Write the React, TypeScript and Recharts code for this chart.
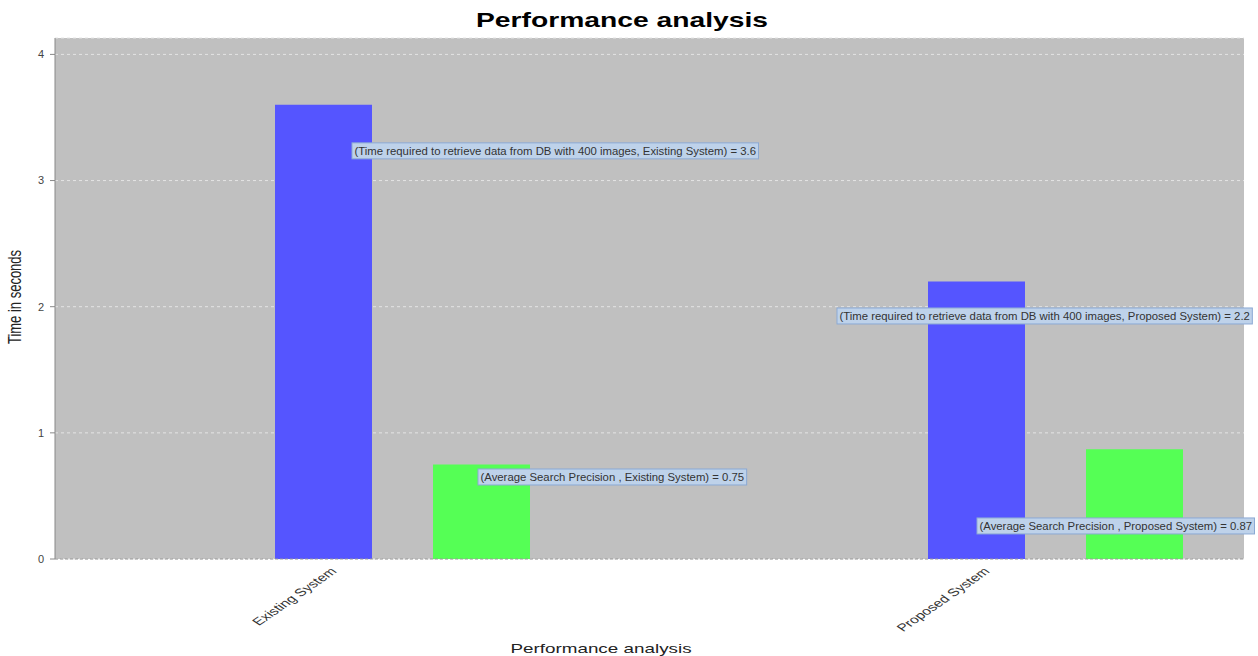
import { BarChart, Bar, XAxis, YAxis, CartesianGrid, LabelList } from "recharts";

const CATEGORIES = ["Existing System", "Proposed System"];
const SERIES_NAMES = [
    "Series 1",
    "Time required to retrieve data from DB with 400 images",
    "Average Search Precision ",
];
const EMPTY_SERIES = [0, 0];
const RETRIEVAL_TIME = [3.6, 2.2];
const SEARCH_PRECISION = [0.75, 0.87];
const Y_TICKS = [0, 1, 2, 3, 4];

const data = CATEGORIES.map((name, i) => ({
    name,
    s0: EMPTY_SERIES[i],
    s1: RETRIEVAL_TIME[i],
    s2: SEARCH_PRECISION[i],
}));

// where each item label box sits, relative to its bar's top-left corner
const LABEL_SHIFT: Record<string, [number, number][]> = {
    s1: [[77, 38], [-91, 26.5]],
    s2: [[45, 4.6], [-109, 68.7]],
};

const LABEL_FONT_SIZE = 11.35;
const LABEL_FONT = `${LABEL_FONT_SIZE}px "Liberation Sans", Arial, sans-serif`;
const STRETCH = 1.45; // the original picture is widened horizontally

const ctx = typeof document !== "undefined" ? document.createElement("canvas").getContext("2d") : null;
function textWidth(t: string) {
    if (!ctx) return t.length * 5.2;
    ctx.font = LABEL_FONT;
    return ctx.measureText(t).width;
}

function itemLabel(key: "s1" | "s2", seriesName: string) {
    return (props: any) => {
        const vb = props.viewBox || {};
        const x = Number(props.x ?? vb.x);
        const y = Number(props.y ?? vb.y);
        const index = props.index ?? 0;
        const text = `(${seriesName}, ${CATEGORIES[index]}) = ${props.value}`;
        const w = textWidth(text) + 5;
        const [dx, dy] = LABEL_SHIFT[key][index];
        const left = x + dx;
        const top = y + dy;
        return (
            <g>
                <rect x={left} y={top} width={w} height={16} fill="#bed2ea" stroke="#8ba9d4" strokeWidth={1} />
                <text x={left + 2.5} y={top + 12} fontSize={LABEL_FONT_SIZE} fill="#333" fontFamily='"Liberation Sans", Arial, sans-serif'>
                    {text}
                </text>
            </g>
        );
    };
}

function CategoryTick(props: any) {
    const { x, y, payload } = props;
    return (
        <text
            transform={`translate(${x + 14},${y + 13}) scale(${STRETCH},1) rotate(-45)`}
            textAnchor="end"
            fontSize={10.8}
            fill="#333"
            fontFamily='"Liberation Sans", Arial, sans-serif'
        >
            {payload.value}
        </text>
    );
}

export default function App() {
    return (
        <div style={{ position: "absolute", left: 0, top: 0, background: "#fff" }}>
            <BarChart
                width={1258}
                height={656}
                data={data}
                margin={{ top: 38, right: 14, left: 0, bottom: 0 }}
                barSize={97}
                barGap={61}
            >
                <CartesianGrid vertical={false} fill="#c0c0c0" stroke="#e4e4e4" strokeDasharray="3 3" />
                <XAxis
                    dataKey="name"
                    height={97}
                    padding={{ left: -58, right: -59 }}
                    tickSize={0}
                    tickMargin={0}
                    tickLine={false}
                    axisLine={{ stroke: "#999", strokeDasharray: "3 2" }}
                    tick={<CategoryTick />}
                    interval={0}
                />
                <YAxis
                    width={55}
                    domain={[0, 4.13]}
                    ticks={Y_TICKS}
                    allowDataOverflow
                    tickSize={5}
                    tickMargin={6}
                    tickLine={{ stroke: "#888" }}
                    axisLine={{ stroke: "#888" }}
                    tick={{ fontSize: 11, fill: "#444", fontFamily: '"Liberation Sans", Arial, sans-serif' }}
                />
                <YAxis yAxisId="frame" orientation="right" width={0} domain={[0, 1]} tick={false} tickLine={false} axisLine={{ stroke: "#888" }} />
                <Bar dataKey="s0" name={SERIES_NAMES[0]} fill="#ff5555" isAnimationActive={false} />
                <Bar dataKey="s1" name={SERIES_NAMES[1]} fill="#5555ff" isAnimationActive={false}>
                    <LabelList dataKey="s1" content={itemLabel("s1", SERIES_NAMES[1])} />
                </Bar>
                <Bar dataKey="s2" name={SERIES_NAMES[2]} fill="#55ff55" isAnimationActive={false}>
                    <LabelList dataKey="s2" content={itemLabel("s2", SERIES_NAMES[2])} />
                </Bar>
                <text
                    transform={`translate(622,27) scale(${STRETCH},1)`}
                    textAnchor="middle"
                    fontSize={19.5}
                    fontWeight="bold"
                    fill="#000"
                    fontFamily='"Liberation Sans", Arial, sans-serif'
                >
                    Performance analysis
                </text>
                <text
                    transform={`translate(601,653) scale(${STRETCH},1)`}
                    textAnchor="middle"
                    fontSize={13}
                    fill="#222"
                    fontFamily='"Liberation Sans", Arial, sans-serif'
                >
                    Performance analysis
                </text>
                <text
                    transform={`translate(21,297) scale(${STRETCH},1) rotate(-90)`}
                    textAnchor="middle"
                    fontSize={13}
                    fill="#222"
                    fontFamily='"Liberation Sans", Arial, sans-serif'
                >
                    Time in seconds
                </text>
            </BarChart>
        </div>
    );
}
